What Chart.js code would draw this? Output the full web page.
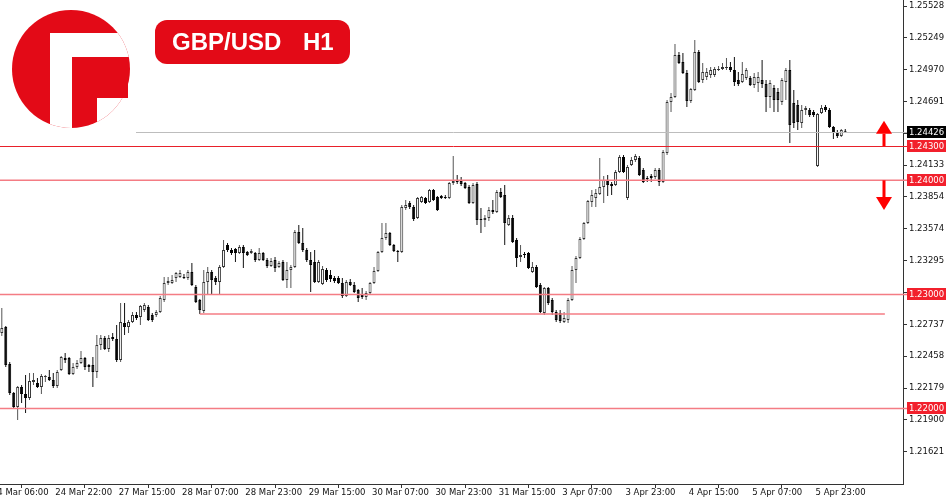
<!DOCTYPE html>
<html>
<head>
<meta charset="utf-8">
<script src="https://cdn.jsdelivr.net/npm/chart.js@4.4.1/dist/chart.umd.min.js"></script>
<style>
  html, body { margin: 0; padding: 0; background: #fff; }
  canvas { display: block; }
</style>
</head>
<body>
<canvas id="chart" width="950" height="500"></canvas>
<script>
// GBP/USD H1 candles, one entry per hourly bar (oldest first)
const openPrices = [
  1.22662, 1.22714, 1.22390, 1.22136, 1.22013, 1.22188, 1.22127, 1.22092, 1.22232, 1.22223,
  1.22188, 1.22276, 1.22276, 1.22250, 1.22197, 1.22337, 1.22443, 1.22443, 1.22302, 1.22364,
  1.22399, 1.22443, 1.22381, 1.22381, 1.22320, 1.22556, 1.22618, 1.22521, 1.22627, 1.22609,
  1.22425, 1.22749, 1.22714, 1.22758, 1.22819, 1.22802, 1.22863, 1.22890, 1.22819, 1.22819,
  1.22846, 1.22951, 1.23100, 1.23100, 1.23144, 1.23153, 1.23153, 1.23144, 1.23197, 1.23065,
  1.22951, 1.22855, 1.23109, 1.23197, 1.23144, 1.23109, 1.23241, 1.23433, 1.23390, 1.23398,
  1.23363, 1.23416, 1.23372, 1.23363, 1.23363, 1.23302, 1.23363, 1.23302, 1.23249, 1.23302,
  1.23241, 1.23284, 1.23127, 1.23214, 1.23241, 1.23547, 1.23451, 1.23390, 1.23302, 1.23284,
  1.23109, 1.23092, 1.23214, 1.23170, 1.23144, 1.23144, 1.23100, 1.22986, 1.23109, 1.23083,
  1.23039, 1.22995, 1.22977, 1.23012, 1.23100, 1.23206, 1.23372, 1.23495, 1.23539, 1.23433,
  1.23381, 1.23372, 1.23758, 1.23802, 1.23767, 1.23670, 1.23810, 1.23845, 1.23810, 1.23915,
  1.23854, 1.23863, 1.23854, 1.23845, 1.23977, 1.24003, 1.23994, 1.23977, 1.23942, 1.23802,
  1.23968, 1.23661, 1.23653, 1.23670, 1.23740, 1.23723, 1.23898, 1.23872, 1.23609, 1.23670,
  1.23477, 1.23328, 1.23355, 1.23363, 1.23197, 1.23241, 1.23083, 1.22837, 1.23057, 1.22951,
  1.22846, 1.22837, 1.22758, 1.22776, 1.22951, 1.23214, 1.23320, 1.23486, 1.23626, 1.23810,
  1.23845, 1.23880, 1.23942, 1.24003, 1.23968, 1.23959, 1.24073, 1.24205, 1.23845, 1.24135,
  1.24178, 1.24196, 1.24091, 1.24020, 1.24038, 1.24029, 1.24091, 1.23985, 1.24240, 1.24687,
  1.24731, 1.25099, 1.25037, 1.24941, 1.24696, 1.24792, 1.25125, 1.24880, 1.24906, 1.24923,
  1.24923, 1.24967, 1.24976, 1.24985, 1.24994, 1.24967, 1.24880, 1.24862, 1.24897, 1.24897,
  1.24836, 1.24853, 1.24880, 1.24845, 1.24731, 1.24810, 1.24774, 1.24687, 1.24862, 1.24967,
  1.24678, 1.24661, 1.24503, 1.24617, 1.24617, 1.24599, 1.24126, 1.24590, 1.24643, 1.24617,
  1.24468, 1.24424, 1.24389, 1.24432
];
const highPrices = [
  1.22881, 1.22723, 1.22407, 1.22144, 1.22197, 1.22206, 1.22293, 1.22311, 1.22311, 1.22267,
  1.22302, 1.22293, 1.22337, 1.22311, 1.22337, 1.22460, 1.22486, 1.22451, 1.22399, 1.22425,
  1.22504, 1.22451, 1.22390, 1.22451, 1.22644, 1.22644, 1.22635, 1.22644, 1.22662, 1.22732,
  1.22925, 1.22925, 1.22776, 1.22846, 1.22846, 1.22907, 1.22925, 1.22907, 1.22837, 1.22863,
  1.22986, 1.23153, 1.23153, 1.23170, 1.23197, 1.23214, 1.23179, 1.23214, 1.23276, 1.23083,
  1.22960, 1.23214, 1.23241, 1.23214, 1.23162, 1.23258, 1.23477, 1.23451, 1.23407, 1.23407,
  1.23433, 1.23433, 1.23381, 1.23398, 1.23372, 1.23407, 1.23372, 1.23320, 1.23320, 1.23328,
  1.23293, 1.23302, 1.23284, 1.23258, 1.23565, 1.23609, 1.23583, 1.23407, 1.23372, 1.23390,
  1.23302, 1.23249, 1.23232, 1.23214, 1.23162, 1.23162, 1.23144, 1.23127, 1.23135, 1.23109,
  1.23048, 1.23057, 1.23030, 1.23109, 1.23241, 1.23381, 1.23626, 1.23626, 1.23547, 1.23442,
  1.23390, 1.23784, 1.23828, 1.23819, 1.23784, 1.23854, 1.23863, 1.23854, 1.23924, 1.23924,
  1.23863, 1.23872, 1.23872, 1.23985, 1.24213, 1.24047, 1.24029, 1.23985, 1.23959, 1.23977,
  1.23985, 1.23758, 1.23696, 1.23767, 1.23828, 1.23915, 1.23933, 1.23959, 1.23696, 1.23696,
  1.23495, 1.23433, 1.23372, 1.23372, 1.23284, 1.23258, 1.23100, 1.23065, 1.23065, 1.22969,
  1.22863, 1.22863, 1.22846, 1.22969, 1.23249, 1.23337, 1.23504, 1.23635, 1.23828, 1.23915,
  1.23924, 1.24196, 1.24038, 1.24047, 1.23985, 1.24091, 1.24222, 1.24222, 1.24135, 1.24205,
  1.24231, 1.24213, 1.24108, 1.24038, 1.24056, 1.24108, 1.24108, 1.24266, 1.24704, 1.24766,
  1.25195, 1.25125, 1.25116, 1.24967, 1.24809, 1.25230, 1.25143, 1.25029, 1.24985, 1.24994,
  1.24994, 1.25002, 1.25029, 1.25072, 1.25037, 1.25081, 1.24950, 1.25037, 1.24985, 1.24915,
  1.24941, 1.24950, 1.25055, 1.24880, 1.24880, 1.24836, 1.24810, 1.24897, 1.24985, 1.25055,
  1.24792, 1.24704, 1.24661, 1.24652, 1.24634, 1.24617, 1.24590, 1.24661, 1.24661, 1.24634,
  1.24476, 1.24441, 1.24450, 1.24450
];
const lowPrices = [
  1.22635, 1.22364, 1.22118, 1.22004, 1.21899, 1.22048, 1.21960, 1.22074, 1.22206, 1.22180,
  1.22127, 1.22232, 1.22241, 1.22180, 1.22180, 1.22329, 1.22399, 1.22293, 1.22293, 1.22346,
  1.22390, 1.22337, 1.22320, 1.22188, 1.22267, 1.22513, 1.22513, 1.22495, 1.22592, 1.22407,
  1.22407, 1.22644, 1.22662, 1.22749, 1.22776, 1.22732, 1.22846, 1.22767, 1.22758, 1.22802,
  1.22837, 1.22933, 1.23083, 1.23092, 1.23109, 1.23144, 1.23135, 1.23127, 1.23074, 1.22925,
  1.22828, 1.22837, 1.22995, 1.22995, 1.23083, 1.22995, 1.23232, 1.23372, 1.23346, 1.23284,
  1.23355, 1.23232, 1.23337, 1.23355, 1.23284, 1.23293, 1.23293, 1.23232, 1.23241, 1.23197,
  1.23232, 1.23118, 1.23057, 1.23057, 1.23232, 1.23442, 1.23372, 1.23284, 1.23021, 1.23100,
  1.23100, 1.23083, 1.23109, 1.23109, 1.23100, 1.23092, 1.22969, 1.22977, 1.23074, 1.23012,
  1.22933, 1.22960, 1.22951, 1.23004, 1.23092, 1.23197, 1.23363, 1.23477, 1.23425, 1.23372,
  1.23284, 1.23363, 1.23740, 1.23749, 1.23644, 1.23661, 1.23802, 1.23793, 1.23802, 1.23819,
  1.23732, 1.23837, 1.23837, 1.23837, 1.23959, 1.23968, 1.23950, 1.23924, 1.23793, 1.23793,
  1.23609, 1.23539, 1.23591, 1.23644, 1.23705, 1.23714, 1.23845, 1.23433, 1.23600, 1.23451,
  1.23241, 1.23284, 1.23320, 1.23223, 1.23188, 1.23057, 1.22837, 1.22819, 1.22907, 1.22819,
  1.22758, 1.22749, 1.22749, 1.22749, 1.22942, 1.23100, 1.23311, 1.23477, 1.23618, 1.23767,
  1.23767, 1.23872, 1.23802, 1.23863, 1.23872, 1.23950, 1.24064, 1.24064, 1.23828, 1.24126,
  1.24161, 1.24038, 1.23977, 1.23985, 1.23985, 1.24012, 1.23950, 1.23977, 1.24222, 1.24599,
  1.24722, 1.25020, 1.24932, 1.24643, 1.24678, 1.24783, 1.24853, 1.24853, 1.24880, 1.24897,
  1.24906, 1.24959, 1.24967, 1.24967, 1.24950, 1.24827, 1.24827, 1.24853, 1.24880, 1.24827,
  1.24810, 1.24774, 1.24810, 1.24599, 1.24634, 1.24599, 1.24599, 1.24661, 1.24704, 1.24327,
  1.24459, 1.24441, 1.24459, 1.24573, 1.24555, 1.24555, 1.24117, 1.24582, 1.24599, 1.24459,
  1.24362, 1.24371, 1.24380, 1.24415
];
const closePrices = [
  1.22706, 1.22381, 1.22136, 1.22013, 1.22188, 1.22127, 1.22092, 1.22241, 1.22250, 1.22188,
  1.22285, 1.22285, 1.22250, 1.22197, 1.22320, 1.22451, 1.22425, 1.22302, 1.22364, 1.22399,
  1.22443, 1.22364, 1.22364, 1.22320, 1.22556, 1.22618, 1.22521, 1.22618, 1.22609, 1.22425,
  1.22758, 1.22714, 1.22758, 1.22819, 1.22793, 1.22898, 1.22907, 1.22776, 1.22776, 1.22846,
  1.22969, 1.23100, 1.23118, 1.23127, 1.23188, 1.23188, 1.23144, 1.23197, 1.23083, 1.22933,
  1.22863, 1.23109, 1.23197, 1.23127, 1.23109, 1.23241, 1.23390, 1.23390, 1.23363, 1.23363,
  1.23416, 1.23363, 1.23346, 1.23381, 1.23302, 1.23363, 1.23302, 1.23249, 1.23293, 1.23232,
  1.23276, 1.23127, 1.23214, 1.23241, 1.23547, 1.23451, 1.23390, 1.23302, 1.23258, 1.23109,
  1.23284, 1.23223, 1.23127, 1.23135, 1.23118, 1.23100, 1.22986, 1.23109, 1.23083, 1.23021,
  1.22969, 1.22977, 1.23012, 1.23100, 1.23206, 1.23372, 1.23495, 1.23539, 1.23433, 1.23381,
  1.23372, 1.23767, 1.23784, 1.23767, 1.23661, 1.23846, 1.23854, 1.23802, 1.23915, 1.23828,
  1.23740, 1.23845, 1.23845, 1.23977, 1.23994, 1.23985, 1.23968, 1.23933, 1.23802, 1.23959,
  1.23653, 1.23653, 1.23670, 1.23740, 1.23723, 1.23898, 1.23854, 1.23626, 1.23670, 1.23460,
  1.23320, 1.23346, 1.23346, 1.23232, 1.23241, 1.23065, 1.22846, 1.23057, 1.22925, 1.22846,
  1.22776, 1.22767, 1.22793, 1.22951, 1.23214, 1.23320, 1.23486, 1.23626, 1.23819, 1.23872,
  1.23889, 1.23942, 1.24003, 1.23959, 1.23950, 1.24073, 1.24205, 1.24073, 1.24117, 1.24178,
  1.24213, 1.24047, 1.23985, 1.24012, 1.24020, 1.24091, 1.23985, 1.24248, 1.24687, 1.24731,
  1.25099, 1.25029, 1.24941, 1.24696, 1.24801, 1.25125, 1.24862, 1.24950, 1.24950, 1.24967,
  1.24976, 1.24976, 1.24994, 1.24994, 1.24967, 1.24862, 1.24845, 1.24932, 1.24967, 1.24836,
  1.24906, 1.24906, 1.24845, 1.24731, 1.24853, 1.24704, 1.24704, 1.24880, 1.24967, 1.24485,
  1.24503, 1.24512, 1.24617, 1.24634, 1.24573, 1.24573, 1.24582, 1.24634, 1.24617, 1.24468,
  1.24415, 1.24389, 1.24441, 1.24426
];

// time axis labels: one every 16 bars, the first one 3 bars before the first candle
const timeLabels = ['24 Mar 06:00', '24 Mar 22:00', '27 Mar 15:00', '28 Mar 07:00', '28 Mar 23:00',
  '29 Mar 15:00', '30 Mar 07:00', '30 Mar 23:00', '31 Mar 15:00', '3 Apr 07:00', '3 Apr 23:00',
  '4 Apr 15:00', '5 Apr 07:00', '5 Apr 23:00'];
const firstLabelBar = -3;
const barsPerLabel = 16;

// price axis
const priceTicks = [1.25528, 1.25249, 1.24970, 1.24691, 1.24412, 1.24133, 1.23854, 1.23574,
  1.23295, 1.23016, 1.22737, 1.22458, 1.22179, 1.21900, 1.21621];
const priceMin = 1.21338;
const priceMax = 1.25581;
const barMin = -0.455;
const barMax = 227.58;

// drawn objects
const levels = [1.24300, 1.24000, 1.23000, 1.22000];
const swingLevel = 1.22828, swingFromBar = 50, swingToBar = 223;
const lastPrice = 1.24426;
const arrows = [[1.24300, 1.24523], [1.24000, 1.23740]];

const RED = '#e30a17';
const AXIS_FONT = { family: 'DejaVu Sans', size: 8.5 };

const idx = closePrices.map((c, i) => i);
const rising = idx.map(i => closePrices[i] >= openPrices[i]);
const wickData = idx.map(i => ({ x: i, y: [lowPrices[i], highPrices[i]] }));
const bodyData = idx.map(i => ({ x: i, y: [openPrices[i], closePrices[i]] }));

function drawLogo(ctx) {
    ctx.save();
    ctx.fillStyle = '#fff';
    ctx.fillRect(0, 0, 136, 139);
    ctx.beginPath();
    ctx.arc(71, 69, 59, 0, Math.PI * 2);
    ctx.clip();
    ctx.fillStyle = RED;
    ctx.fillRect(0, 0, 140, 140);
    ctx.fillStyle = '#fff';
    ctx.fillRect(50, 33, 22, 110);
    ctx.fillRect(50, 33, 90, 24);
    ctx.fillRect(97, 98, 45, 45);
    ctx.restore();
    // square right edge of the middle block
    ctx.fillStyle = RED;
    ctx.fillRect(72, 57, 56, 41);

    ctx.save();
    ctx.fillStyle = RED;
    ctx.beginPath();
    ctx.roundRect(155, 20, 195, 44, 12);
    ctx.fill();
    ctx.fillStyle = '#fff';
    ctx.font = 'bold 24px "Liberation Sans", Arial, sans-serif';
    ctx.textBaseline = 'alphabetic';
    ctx.fillText('GBP/USD', 172, 50);
    ctx.fillText('H1', 303, 50);
    ctx.restore();
}

const overlay = {
    id: 'overlay',
    afterDatasetsDraw(chart) {
        const { ctx, chartArea, scales: { x, y } } = chart;
        const crisp = v => Math.round(v) + 0.5;
        ctx.save();
        // bid line
        ctx.strokeStyle = '#bdbdbd';
        ctx.lineWidth = 1;
        ctx.beginPath();
        ctx.moveTo(0, crisp(y.getPixelForValue(lastPrice)));
        ctx.lineTo(chartArea.right + 4, crisp(y.getPixelForValue(lastPrice)));
        ctx.stroke();
        // swing low line
        ctx.strokeStyle = '#f47c84';
        ctx.lineWidth = 1.5;
        ctx.beginPath();
        ctx.moveTo(x.getPixelForValue(swingFromBar), y.getPixelForValue(swingLevel));
        ctx.lineTo(x.getPixelForValue(swingToBar), y.getPixelForValue(swingLevel));
        ctx.stroke();
        // horizontal levels
        levels.forEach((lv, k) => {
            const py = y.getPixelForValue(lv);
            ctx.strokeStyle = k === 0 ? '#e8202a' : '#f47c84';
            ctx.lineWidth = k === 0 ? 1 : 1.5;
            ctx.beginPath();
            ctx.moveTo(0, k === 0 ? crisp(py) : py);
            ctx.lineTo(chartArea.right + 4, k === 0 ? crisp(py) : py);
            ctx.stroke();
        });
        ctx.restore();
    },
    afterDraw(chart) {
        const { ctx, chartArea, scales: { y } } = chart;
        ctx.save();
        // arrows
        ctx.fillStyle = '#ff0000';
        arrows.forEach(([from, to]) => {
            const y0 = y.getPixelForValue(from);
            const y1 = y.getPixelForValue(to);
            const dir = Math.sign(y1 - y0);
            const cx = chartArea.right - 19;
            const yb = y1 - dir * 13;
            ctx.fillRect(cx - 1.5, Math.min(y0, yb), 3, Math.abs(yb - y0));
            ctx.beginPath();
            ctx.moveTo(cx - 8, yb);
            ctx.lineTo(cx + 8, yb);
            ctx.lineTo(cx, y1);
            ctx.closePath();
            ctx.fill();
        });
        // price boxes on the axis
        ctx.font = AXIS_FONT.size + 'px "' + AXIS_FONT.family + '"';
        ctx.textBaseline = 'middle';
        ctx.textAlign = 'left';
        const box = (val, bg) => {
            const py = Math.round(y.getPixelForValue(val));
            ctx.fillStyle = bg;
            ctx.fillRect(chartArea.right + 4, py - 6, 39, 12);
            ctx.fillStyle = '#fff';
            ctx.fillText(val.toFixed(5), chartArea.right + 6, py + 0.5);
        };
        levels.forEach(lv => box(lv, '#f2202c'));
        box(lastPrice, '#000');
        ctx.restore();
        drawLogo(ctx);
    }
};

const ctx = document.getElementById('chart').getContext('2d');
const chart = new Chart(ctx, {
    type: 'bar',
    data: {
        datasets: [{
            label: 'Body',
            data: bodyData,
            backgroundColor: rising.map(r => r ? '#ffffff' : '#000000'),
            borderColor: rising.map(r => r ? '#333333' : '#000000'),
            borderWidth: 1,
            borderSkipped: false,
            grouped: false,
            categoryPercentage: 1,
            barPercentage: 1,
            maxBarThickness: 3,
            minBarLength: 1,
            inflateAmount: 0,
            order: 1
        },
        {
            label: 'Wick',
            data: wickData,
            backgroundColor: rising.map(r => r ? '#555555' : '#111111'),
            borderWidth: 0,
            grouped: false,
            categoryPercentage: 1,
            barPercentage: 1,
            maxBarThickness: 1,
            inflateAmount: 0,
            order: 2
        }]
    },
    options: {
        responsive: false,
        animation: false,
        devicePixelRatio: 1,
        events: [],
        layout: { padding: 0 },
        plugins: {
            legend: { display: false },
            tooltip: { enabled: false }
        },
        scales: {
            x: {
                type: 'linear',
                min: barMin,
                max: barMax,
                offset: false,
                grid: { display: true, drawOnChartArea: false, drawTicks: true, tickLength: 4, color: '#333' },
                border: { display: true, color: '#333', width: 1 },
                ticks: {
                    autoSkip: false,
                    maxRotation: 0,
                    minRotation: 0,
                    align: 'start',
                    labelOffset: 2,
                    padding: 0,
                    color: '#111',
                    font: AXIS_FONT,
                    callback: (value, index) => timeLabels[index]
                },
                afterBuildTicks: scale => {
                    scale.ticks = timeLabels.map((t, k) => ({ value: firstLabelBar + k * barsPerLabel }));
                },
                afterFit: scale => {
                    scale.height = 16;
                    scale.paddingLeft = 0;
                    scale.paddingRight = 0;
                }
            },
            y: {
                position: 'right',
                min: priceMin,
                max: priceMax,
                grid: { display: true, drawOnChartArea: false, drawTicks: true, tickLength: 4, color: '#333' },
                border: { display: true, color: '#333', width: 1 },
                ticks: {
                    autoSkip: false,
                    padding: 2,
                    color: '#111',
                    font: AXIS_FONT,
                    callback: value => value.toFixed(5)
                },
                afterBuildTicks: scale => {
                    scale.ticks = priceTicks.map(v => ({ value: v }));
                },
                afterFit: scale => {
                    scale.width = 47;
                    scale.paddingTop = 0;
                    scale.paddingBottom = 0;
                }
            }
        }
    },
    plugins: [overlay]
});
</script>
</body>
</html>
